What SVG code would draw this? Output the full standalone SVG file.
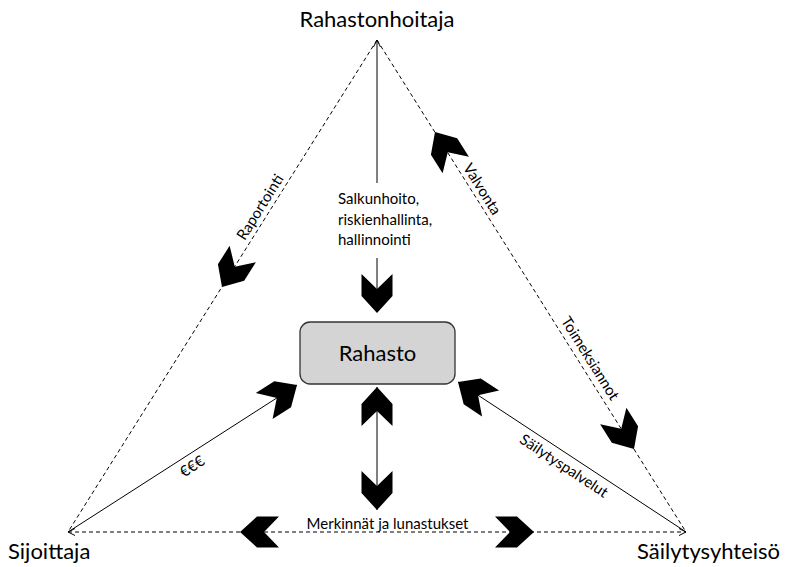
<svg xmlns="http://www.w3.org/2000/svg" width="785" height="567" viewBox="0 0 785 567">
<defs>
<style>
.lbl{font-family:Lato,"Liberation Sans",sans-serif;font-size:15px;fill:#000}
.big{font-family:Lato,"Liberation Sans",sans-serif;font-size:22px;fill:#000}
.solid{stroke:#000;stroke-width:1;fill:none}
.dash{stroke:#000;stroke-width:1;fill:none;stroke-dasharray:4 3}
.box{fill:#d4d4d4;stroke:#333;stroke-width:1.3}
</style>
<path id="chev" d="M0,0 L-17,-15.5 L-39,-15.5 L-24,0 L-39,15.5 L-17,15.5 Z" fill="#000"/>
<marker id="tip" markerUnits="userSpaceOnUse" markerWidth="8" markerHeight="8" refX="7" refY="3.5" orient="auto-start-reverse" viewBox="0 0 8 7"><path d="M0,0 L7,3.5 L0,7" fill="none" stroke="#000" stroke-width="1"/></marker>
</defs>
<rect width="785" height="567" fill="#fff"/>

<g id="connectors">
  <path class="solid" d="M377,183 L377,40" marker-end="url(#tip)"/>
  <path class="solid" d="M377,258 L377,300"/>
  <use href="#chev" transform="translate(377,313) rotate(90)"/>

  <path class="dash" d="M377,40 L68,532"/>
  <use href="#chev" transform="translate(222,287) rotate(122.13)"/>
  <path class="dash" d="M377,40 L686,532"/>
  <use href="#chev" transform="translate(435,132) rotate(-122.13)"/>
  <use href="#chev" transform="translate(634,449) rotate(57.87)"/>

  <path class="dash" d="M68,532 L686,532" marker-start="url(#tip)" marker-end="url(#tip)"/>
  <use href="#chev" transform="translate(240,532) rotate(180)"/>
  <use href="#chev" transform="translate(534,532)"/>

  <path class="solid" d="M68,532 L297,385"/>
  <use href="#chev" transform="translate(297,385) rotate(-32.7)"/>
  <path class="solid" d="M686,532 L458,382"/>
  <use href="#chev" transform="translate(458,382) rotate(-146.66)"/>

  <path class="solid" d="M377,387 L377,510"/>
  <use href="#chev" transform="translate(377,387) rotate(-90)"/>
  <use href="#chev" transform="translate(377,510) rotate(90)"/>

  <text class="lbl" x="338" y="204">Salkunhoito,</text>
  <text class="lbl" x="338" y="225">riskienhallinta,</text>
  <text class="lbl" x="338" y="245">hallinnointi</text>
  <text class="lbl" text-anchor="middle" transform="translate(264.4,209.9) rotate(-57.87)">Raportointi</text>
  <text class="lbl" text-anchor="middle" transform="translate(477.8,191.8) rotate(57.87)">Valvonta</text>
  <text class="lbl" text-anchor="middle" transform="translate(585.8,361.1) rotate(57.87)">Toimeksiannot</text>
  <text class="lbl" text-anchor="middle" transform="translate(194.9,470.7) rotate(-32.7)">€€€</text>
  <text class="lbl" text-anchor="middle" transform="translate(561.1,470.1) rotate(33.34)">Säilytyspalvelut</text>
  <text class="lbl" text-anchor="middle" x="387.5" y="529">Merkinnät ja lunastukset</text>
</g>

<g id="node-rahastonhoitaja">
  <text class="big" text-anchor="middle" x="377" y="27">Rahastonhoitaja</text>
</g>
<g id="node-rahasto">
  <rect class="box" x="300" y="322" width="155" height="62" rx="10" ry="10"/>
  <text class="big" text-anchor="middle" x="377.5" y="361">Rahasto</text>
</g>
<g id="node-sijoittaja">
  <text class="big" x="8" y="559">Sijoittaja</text>
</g>
<g id="node-sailytysyhteiso">
  <text class="big" x="637" y="559">Säilytysyhteisö</text>
</g>
</svg>
